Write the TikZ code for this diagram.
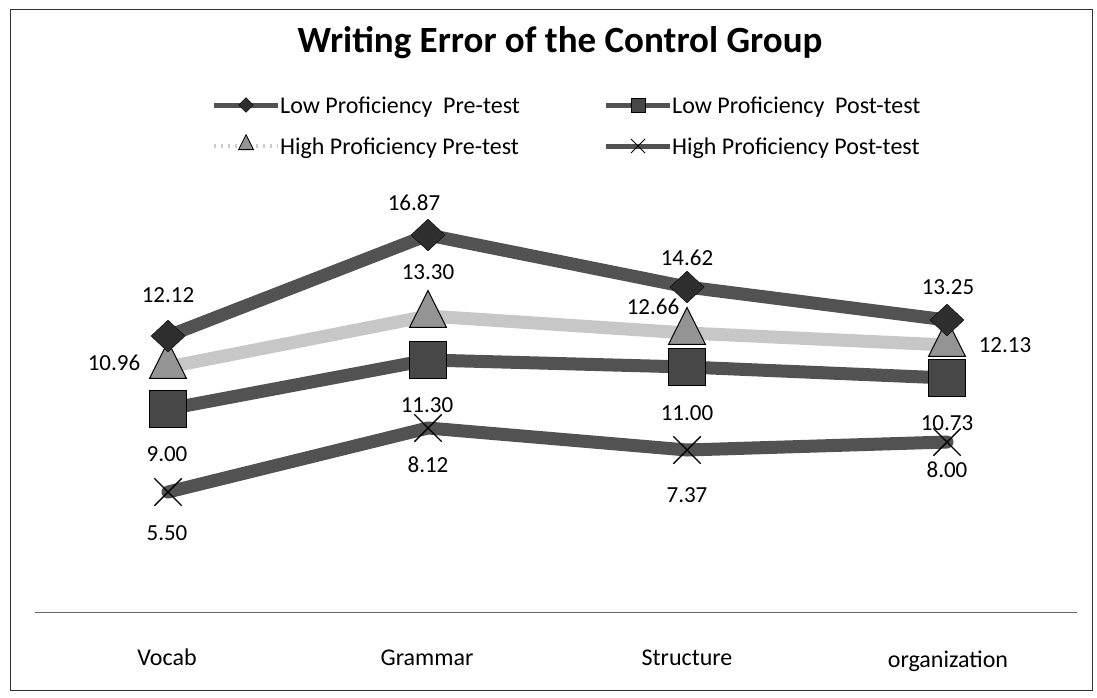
\documentclass[tikz,border=0pt]{standalone}
\usepackage{fontspec}
\setmainfont{Carlito}
\usetikzlibrary{shapes.geometric,shapes.misc}
\begin{document}
\begin{tikzpicture}[x=1pt,y=-1pt,
  txt/.style={font=\fontsize{24}{28}\selectfont, inner sep=0pt},
  lbl/.style={font=\fontsize{23}{27}\selectfont, inner sep=0pt},
  ser/.style={line width=13pt, line join=round, line cap=round},
  darkser/.style={ser, draw=black!68},
  lightser/.style={ser, draw=black!22},
  legdark/.style={line width=5pt, draw=black!68},
  leglight/.style={line width=4pt, draw=black!20, dash pattern=on 2pt off 5pt},
  dmark/.style={diamond, fill=black!82, draw=black, minimum width=34pt, minimum height=32pt, inner sep=0pt},
  tmark/.style={isosceles triangle, shape border rotate=90, isosceles triangle stretches, fill=black!42, draw=black, line width=1pt, minimum width=37pt, minimum height=37pt, inner sep=0pt},
  smark/.style={rectangle, fill=black!72, draw=black, minimum size=37pt, inner sep=0pt},
  xmark/.style={cross out, draw=black, line width=1.4pt, minimum size=26pt, inner sep=0pt},
]
\useasboundingbox (0,0) rectangle (1097,697);
% frame
\draw[black!80, line width=1pt] (10,9) rectangle (1092,690);
% title
\node[font=\fontsize{37}{42}\selectfont\bfseries, inner sep=0pt] (title) at (560,43) {Writing Error of the Control Group};
% legend
\coordinate (l1a) at (214,105); \coordinate (l1b) at (278,105);
\coordinate (l2a) at (214,146); \coordinate (l2b) at (278,146);
\coordinate (l3a) at (606,105); \coordinate (l3b) at (670,105);
\coordinate (l4a) at (606,146); \coordinate (l4b) at (670,146);
\draw[legdark] (l1a) -- (l1b);
\draw[leglight] (l2a) -- (l2b);
\draw[legdark] (l3a) -- (l3b);
\draw[legdark] (l4a) -- (l4b);
\node[dmark, minimum width=15pt, minimum height=15pt] (lg1) at (246,105) {};
\node[tmark, minimum width=15pt, minimum height=15pt, line width=0.8pt] (lg2) at (246,145) {};
\node[smark, minimum size=14pt] (lg3) at (638,105) {};
\node[xmark, minimum size=13pt, line width=1pt] (lg4) at (638,146) {};
\node[txt, anchor=base west] (t1) at (280,113) {Low Proficiency\ \ Pre-test};
\node[txt, anchor=base west] (t2) at (280,154) {High Proficiency Pre-test};
\node[txt, anchor=base west] (t3) at (672,113) {Low Proficiency\ \ Post-test};
\node[txt, anchor=base west] (t4) at (672,154) {High Proficiency Post-test};
% axis
\coordinate (ax1) at (35,612); \coordinate (ax2) at (1077,612);
\draw[black!60, line width=1pt] (ax1) -- (ax2);
\node[txt, anchor=base] (c1) at (167,665) {Vocab};
\node[txt, anchor=base] (c2) at (427,665) {Grammar};
\node[txt, anchor=base] (c3) at (687,665) {Structure};
\node[txt, anchor=base] (c4) at (948,667) {organization};
% data coordinates
\coordinate (a1) at (168,336); \coordinate (a2) at (428,235); \coordinate (a3) at (687,287); \coordinate (a4) at (947,320);
\coordinate (b1) at (168,367); \coordinate (b2) at (428,316); \coordinate (b3) at (687,333); \coordinate (b4) at (947,345);
\coordinate (p1) at (168,409); \coordinate (p2) at (428,360); \coordinate (p3) at (687,367); \coordinate (p4) at (947,378);
\coordinate (q1) at (168,492); \coordinate (q2) at (428,428); \coordinate (q3) at (687,450); \coordinate (q4) at (947,442);
% series lines
\draw[darkser] (a1) -- (a2) -- (a3) -- (a4);
\draw[darkser] (p1) -- (p2) -- (p3) -- (p4);
\draw[lightser] (b1) -- (b2) -- (b3) -- (b4);
\draw[darkser] (q1) -- (q2) -- (q3) -- (q4);
% markers
\foreach \i in {1,2,3,4}{
  \node[smark] (ps\i) at (p\i) {};
  \node[tmark] (bt\i) at (b\i) {};
  \node[dmark] (ad\i) at (a\i) {};
  \node[xmark] (qx\i) at (q\i) {};
}
% data labels
\node[lbl] (v11) at (168,295) {12.12};
\node[lbl] (v12) at (414,203) {16.87};
\node[lbl] (v13) at (687,258) {14.62};
\node[lbl] (v14) at (948,287) {13.25};
\node[lbl] (v21) at (114,363) {10.96};
\node[lbl] (v22) at (428,272) {13.30};
\node[lbl] (v23) at (653,307) {12.66};
\node[lbl] (v24) at (1005,345) {12.13};
\node[lbl] (v31) at (167,454) {9.00};
\node[lbl] (v32) at (427,405) {11.30};
\node[lbl] (v33) at (687,413) {11.00};
\node[lbl] (v34) at (947,423) {10.73};
\node[lbl] (v41) at (167,533) {5.50};
\node[lbl] (v42) at (428,465) {8.12};
\node[lbl] (v43) at (687,495) {7.37};
\node[lbl] (v44) at (947,470) {8.00};
\end{tikzpicture}
\end{document}
